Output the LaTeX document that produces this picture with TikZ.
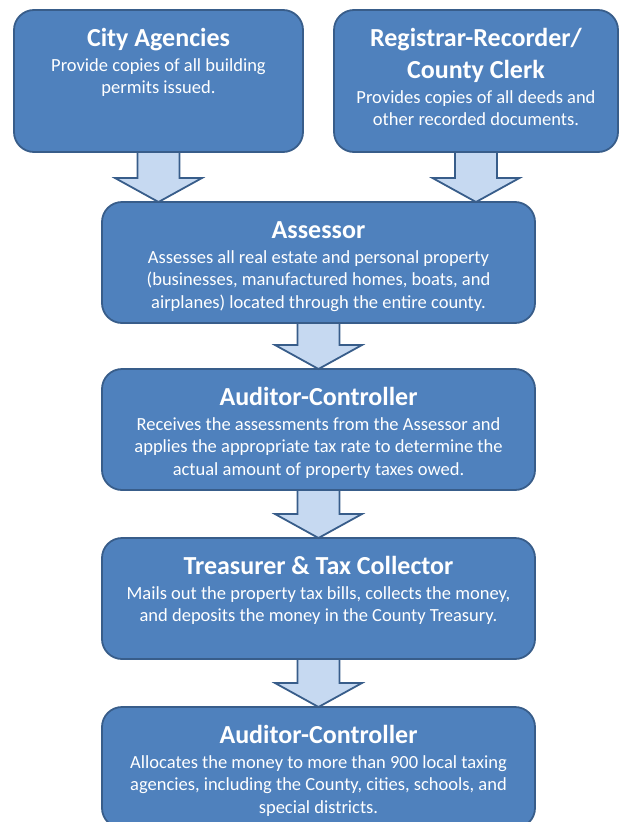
\documentclass[tikz,border=0pt]{standalone}
\usepackage{fontspec}
\setmainfont{Carlito}
\usepackage{tikz}
\usetikzlibrary{positioning}
\usetikzlibrary{calc}
\definecolor{boxfill}{HTML}{4F81BD}
\definecolor{boxline}{HTML}{385D8A}
\definecolor{arrfill}{HTML}{C6D9F1}
\tikzstyle{stage_n} = [draw=boxline, fill=boxfill, line width=1.8pt, rounded corners=20pt, inner sep=0pt, outer sep=0pt, text=white]
\tikzstyle{flow_a} = [draw=boxline, fill=arrfill, line width=1.8pt, line join=miter]
% box text: width, height, title, body
\newcommand{\stagetext}[4]{\parbox[c][#2][t]{#1}{\centering
  {\fontsize{26}{32}\bfseries\rule{0pt}{36pt}#3\par}
  \vspace{2.5pt}{\fontsize{18.5}{22.5}\selectfont #4\par}}}
% block arrow from one box down to the next
\newcommand{\flowdown}[2]{%
  \draw[flow_a] let \p1=(#1.south), \p2=(#1.south |- #2.north) in
    (\x1-21pt,\y1) -- (\x1+21pt,\y1) -- (\x1+21pt,\y2+24pt) -- (\x1+43.5pt,\y2+24pt)
    -- (\x2,\y2) -- (\x1-43.5pt,\y2+24pt) -- (\x1-21pt,\y2+24pt) -- cycle;}

\begin{document}
\begin{tikzpicture}[x=1pt,y=1pt]
\clip (0,0) rectangle (619,-822);
\node [stage_n] (city) at (158.5,-81) {\stagetext{289pt}{142pt}{City Agencies}{Provide copies of all building\\permits issued.}};
\node [stage_n] (registrar) at (476,-81) {\stagetext{284pt}{142pt}{Registrar-Recorder/\\County Clerk}{Provides copies of all deeds and\\other recorded documents.}};
\node [stage_n] (assessor) at (318.5,-262.5) {\stagetext{433pt}{121pt}{Assessor}{Assesses all real estate and personal property\\(businesses, manufactured homes, boats, and\\airplanes) located through the entire county.}};
\node [stage_n, below=46pt of assessor] (auditor) {\stagetext{433pt}{121pt}{Auditor-Controller}{Receives the assessments from the Assessor and\\applies the appropriate tax rate to determine the\\actual amount of property taxes owed.}};
\node [stage_n, below=48pt of auditor] (treasurer) {\stagetext{433pt}{121pt}{Treasurer \& Tax Collector}{Mails out the property tax bills, collects the money,\\and deposits the money in the County Treasury.}};
\node [stage_n, below=48pt of treasurer] (allocator) {\stagetext{433pt}{121pt}{Auditor-Controller}{Allocates the money to more than 900 local taxing\\agencies, including the County, cities, schools, and\\special districts.}};
\flowdown{city}{assessor}
\flowdown{registrar}{assessor}
\flowdown{assessor}{auditor}
\flowdown{auditor}{treasurer}
\flowdown{treasurer}{allocator}
\end{tikzpicture}
\end{document}
